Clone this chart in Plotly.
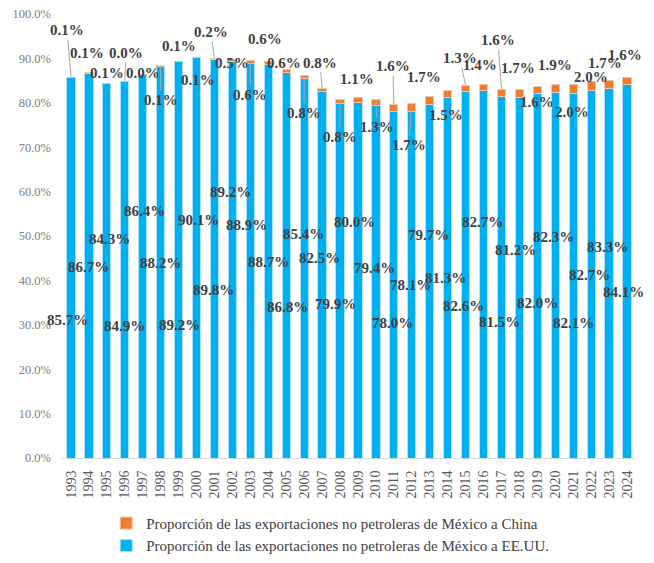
import plotly.graph_objects as go

years = list(range(1993, 2025))

# share of Mexico's non-oil exports (%)
us_share = [85.7, 86.7, 84.3, 84.9, 86.4, 88.2, 89.2, 90.1, 89.8, 89.2, 88.9,
            88.7, 86.8, 85.4, 82.5, 79.9, 80.0, 79.4, 78.0, 78.1, 79.7, 81.3,
            82.6, 82.7, 81.5, 81.2, 82.0, 82.3, 82.1, 82.7, 83.3, 84.1]
china_share = [0.1, 0.1, 0.1, 0.0, 0.0, 0.1, 0.1, 0.1, 0.2, 0.5, 0.6,
               0.6, 0.6, 0.8, 0.8, 0.8, 1.1, 1.3, 1.6, 1.7, 1.7, 1.5,
               1.3, 1.4, 1.6, 1.7, 1.6, 1.9, 2.0, 2.0, 1.7, 1.6]

name_china = "Proporción de las exportaciones no petroleras de México a China"
name_us = "Proporción de las exportaciones no petroleras de México a EE.UU."

# where the data labels were dragged to (layout only): y in %, x offset in bars
cn_lab_y = [96.4, 91.2, 86.7, 91.2, 86.7, 80.6, 92.8, 85.1, 96.0, 89.0, 81.8,
            94.4, 89.0, 77.7, 89.0, 72.3, 85.4, 74.5, 88.3, 70.5, 85.8, 77.3,
            90.1, 88.5, 94.1, 87.8, 80.2, 88.5, 77.9, 85.8, 89.0, 90.8]
cn_lab_dx = [-0.22, -0.1, 0, 0.06, 0, 0, 0, 0.08, -0.2, 0, 0,
             -0.18, -0.13, 0, -0.12, 0, -0.06, 0.06, -0.05, -0.16, -0.33, -0.1,
             -0.32, -0.2, -0.2, -0.08, 0, 0, -0.07, 0, -0.23, -0.12]
cn_leader = [1993, 1996, 1998, 2001, 2003, 2006, 2007, 2008, 2010, 2011, 2012, 2015, 2017]
us_lab_y = [31.1, 43.0, 49.3, 29.7, 55.6, 43.9, 30.0, 53.6, 37.8, 59.9, 52.5,
            44.1, 34.0, 50.5, 45.0, 34.7, 53.2, 42.8, 30.4, 39.0, 50.2, 40.5,
            34.2, 53.2, 30.6, 46.8, 34.9, 49.8, 30.4, 41.2, 47.5, 37.4]
us_lab_dx = [-0.22, -0.05, 0.17, 0, 0.1, 0, 0.05, 0.13, -0.08, -0.08, -0.19,
             0, 0.07, -0.04, -0.12, -0.28, -0.17, -0.06, -0.08, -0.08, -0.07, -0.1,
             -0.1, -0.06, -0.12, -0.22, 0, -0.08, 0, -0.07, -0.09, -0.2]

FONT = "Liberation Serif"
lab_font = dict(family=FONT, size=15, color="#404040", weight="bold")

fig = go.Figure()
fig.add_trace(go.Bar(
    x=years, y=us_share, name=name_us, legendgroup="us",
    marker=dict(color="#00B0F0", line=dict(color="#A9E1F7", width=1)),
    width=0.46,
))
fig.add_trace(go.Bar(
    x=years, y=china_share, name=name_china, legendgroup="cn",
    marker=dict(color="#ED7D31", line=dict(color="#F6C3A3", width=1)),
    width=0.46,
))

annotations = []
for i, yr in enumerate(years):
    annotations.append(dict(
        x=yr + us_lab_dx[i], y=us_lab_y[i], xref="x", yref="y",
        text=f"{us_share[i]:.1f}%", showarrow=False, font=lab_font,
    ))
    if yr in cn_leader:
        annotations.append(dict(
            x=yr, y=us_share[i] + china_share[i], xref="x", yref="y",
            ax=yr + cn_lab_dx[i], ay=cn_lab_y[i], axref="x", ayref="y",
            text=f"{china_share[i]:.1f}%", showarrow=True, arrowhead=0,
            arrowwidth=1, arrowcolor="#A6A6A6", standoff=0, font=lab_font,
        ))
    else:
        annotations.append(dict(
            x=yr + cn_lab_dx[i], y=cn_lab_y[i], xref="x", yref="y",
            text=f"{china_share[i]:.1f}%", showarrow=False, font=lab_font,
        ))

fig.update_layout(
    barmode="stack",
    width=654,
    height=563,
    margin=dict(l=62, r=18, t=14, b=105, autoexpand=False),
    plot_bgcolor="white",
    paper_bgcolor="white",
    font=dict(family=FONT, color="#404040"),
    annotations=annotations,
    legend=dict(
        orientation="v", traceorder="reversed",
        x=0.077, xanchor="left", y=-0.11, yanchor="top",
        font=dict(family=FONT, size=15, color="#404040"),
        tracegroupgap=13,
    ),
    showlegend=True,
)
fig.update_xaxes(
    range=[1992.5, 2024.5], tickmode="array", tickvals=years,
    ticktext=[str(y) for y in years], tickangle=-90,
    tickfont=dict(family=FONT, size=14, color="#595959"),
    showline=True, linecolor="#D9D9D9", linewidth=1,
    showgrid=False, zeroline=False, ticks="", ticklabelstandoff=6,
    automargin=False,
)
fig.update_yaxes(
    range=[0, 100], dtick=10, tickformat=".1f", ticksuffix="%",
    tickfont=dict(family=FONT, size=12.5, color="#808080"),
    showgrid=False, zeroline=False, showline=False, ticks="",
    ticklabelstandoff=10, automargin=False,
)

# drop the default 8px body margin so the figure sits at the page corner
fig.write_html(
    "out.html",
    config={"displayModeBar": False},
    post_script="document.body.style.margin = '0';",
)
